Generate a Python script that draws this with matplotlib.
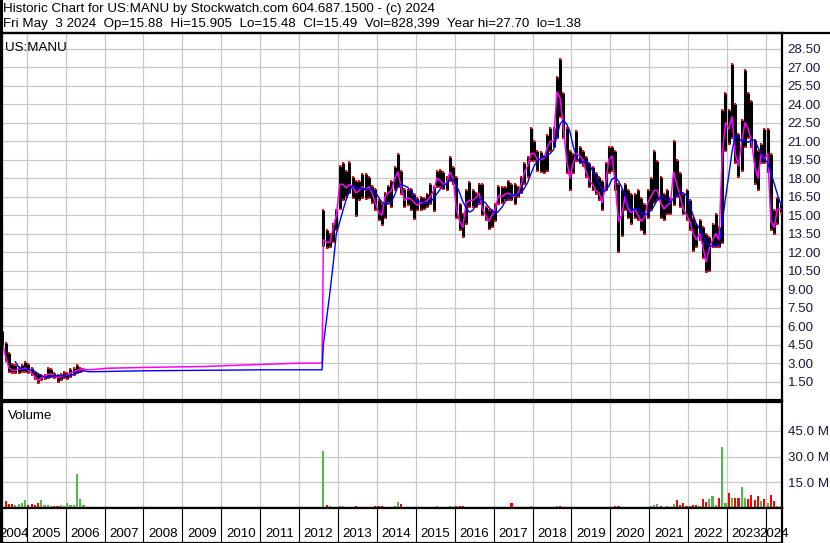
import numpy as np
import pandas as pd
import matplotlib
matplotlib.use('Agg')
from matplotlib import pyplot as plt
from matplotlib.lines import Line2D

plt.rcParams['font.family'] = ['Liberation Sans', 'DejaVu Sans']

# old listing, monthly bars May 2004 - Jun 2006
old_start = '2004-05'
old_high = [5.6, 4.6, 3.8, 2.9, 2.8, 2.7, 2.8, 3.1, 2.9, 2.6, 2.3, 2.1, 2.0,
            2.0, 2.6, 2.5, 2.2, 2.0, 2.1, 2.3, 2.2, 2.5, 2.6, 2.8, 2.6, 2.55]
old_low = [4.2, 3.2, 2.3, 2.2, 2.2, 2.2, 2.3, 2.3, 2.2, 2.0, 1.7, 1.4, 1.6,
           1.7, 1.8, 1.9, 1.8, 1.5, 1.6, 1.8, 1.7, 1.9, 2.0, 2.2, 2.3, 2.4]
old_close = [4.6, 3.5, 2.6, 2.4, 2.4, 2.5, 2.5, 2.6, 2.4, 2.2, 1.9, 1.6, 1.8,
             1.85, 2.1, 2.1, 2.0, 1.8, 1.9, 2.0, 2.0, 2.2, 2.3, 2.4, 2.45, 2.5]
old_vol = [14, 3.9, 2.5, 2.2, 2.0, 2.5, 3.0, 4.9, 2.0, 2.5, 2.0, 3.0, 4.5,
           2.0, 1.5, 1.2, 1.2, 1.0, 1.5, 1.2, 3.0, 1.5, 1.8, 20, 5.5, 2.0]

# moving averages drawn flat across the 2006-2012 gap
fast_gap_years = [2006.6, 2007.09, 2008.35, 2009.56, 2010.77, 2012.0, 2012.59]
fast_gap_vals = [2.45, 2.58, 2.66, 2.72, 2.86, 2.99, 2.99]
slow_gap_years = [2006.6, 2008.04, 2011.07, 2012.59]
slow_gap_vals = [2.29, 2.37, 2.45, 2.45]

# NYSE listing, monthly bars Aug 2012 - May 2024
new_start = '2012-08'
new_high = [15.4, 13.8, 13.5, 14.3, 15.4,
            19.0, 19.2, 18.6, 19.3, 18.1, 17.8, 17.8, 18.3, 18.3, 18.1, 17.4, 17.1,
            16.2, 15.9, 16.8, 17.4, 17.8, 18.9, 20.0, 18.6, 17.1, 17.0, 17.1, 16.7,
            16.4, 16.5, 16.4, 16.7, 17.5, 17.3, 18.6, 18.7, 18.5, 18.1, 19.7, 18.9,
            18.1, 15.9, 15.1, 17.0, 17.7, 17.0, 16.8, 17.5, 17.5, 15.7, 15.4, 15.4,
            15.9, 17.4, 17.3, 17.3, 17.8, 17.5, 17.5, 17.3, 18.1, 19.2, 19.7, 22.1,
            21.0, 20.2, 20.1, 19.8, 21.5, 22.1, 22.1, 26.2, 27.7, 24.9, 22.1, 20.2,
            20.0, 21.8, 20.5, 20.2, 19.7, 19.2, 18.9, 18.4, 18.1, 17.8, 19.2, 20.5,
            20.5, 20.2, 17.5, 17.0, 17.5, 17.0, 16.7, 16.7, 17.0, 16.4, 15.9, 17.0,
            18.0, 20.2, 19.4, 18.1, 16.7, 17.0, 16.4, 21.0, 19.5, 18.4, 16.7, 17.0,
            16.2, 14.8, 14.3, 14.6, 14.0, 13.5, 13.2, 14.3, 15.1, 14.0, 23.5, 24.9,
            23.5, 27.3, 24.0, 21.6, 22.7, 26.8, 24.9, 24.3, 21.1, 20.2, 20.8, 22.0,
            22.0, 20.0, 15.4, 16.4, 15.9]
new_low = [12.5, 12.3, 12.4, 12.8, 13.8,
           15.5, 16.2, 16.5, 16.8, 16.4, 14.9, 16.2, 16.4, 16.3, 16.4, 16.0, 15.4,
           14.6, 14.2, 14.8, 16.0, 15.7, 17.0, 17.3, 16.7, 15.7, 15.8, 15.4, 14.7,
           15.4, 15.4, 15.5, 15.7, 15.9, 15.3, 17.3, 17.3, 17.1, 17.0, 17.8, 17.5,
           14.8, 13.8, 13.2, 14.3, 15.7, 15.7, 15.7, 15.9, 15.0, 14.6, 13.9, 14.0,
           14.5, 15.9, 16.0, 16.2, 16.2, 16.2, 15.9, 16.5, 16.8, 17.5, 18.1, 19.4,
           19.4, 18.6, 18.5, 18.4, 18.6, 20.2, 20.5, 21.3, 23.0, 21.3, 18.4, 17.0,
           18.4, 19.4, 19.2, 19.0, 18.1, 17.3, 17.0, 16.7, 16.2, 15.4, 17.0, 18.4,
           18.6, 17.0, 12.0, 13.3, 15.4, 14.8, 14.3, 14.8, 14.6, 13.8, 13.5, 14.8,
           15.4, 16.0, 16.2, 14.8, 14.6, 15.1, 15.1, 15.8, 16.5, 15.7, 15.1, 14.6,
           13.8, 12.1, 12.4, 13.0, 11.5, 10.4, 10.5, 12.4, 12.4, 12.4, 12.7, 20.2,
           20.8, 21.3, 19.2, 18.1, 18.6, 20.5, 21.3, 20.5, 17.5, 17.0, 19.2, 19.2,
           18.5, 13.8, 13.5, 14.3, 15.2]
new_close = [13.0, 12.8, 12.8, 14.0, 15.0,
             17.5, 17.5, 17.2, 17.5, 17.3, 16.8, 17.0, 17.3, 17.0, 17.3, 16.8, 16.0,
             15.2, 15.0, 16.5, 16.8, 17.0, 18.0, 18.5, 17.2, 16.2, 16.4, 16.3, 16.0,
             15.8, 16.0, 16.0, 16.2, 16.5, 17.0, 18.0, 17.8, 17.5, 17.6, 18.5, 18.0,
             15.5, 14.5, 14.0, 16.0, 16.2, 16.2, 16.4, 16.8, 15.5, 15.0, 14.5, 15.0,
             15.5, 16.6, 16.5, 16.7, 16.8, 16.6, 16.5, 16.8, 17.5, 18.5, 19.0, 20.0,
             20.0, 19.5, 19.5, 19.6, 20.5, 21.0, 21.0, 25.0, 24.5, 22.0, 19.5, 18.0,
             19.2, 20.0, 19.8, 19.5, 18.5, 17.8, 17.5, 17.0, 16.8, 16.0, 17.5, 19.5,
             19.8, 17.5, 14.5, 15.0, 16.5, 15.5, 15.2, 15.5, 15.0, 14.5, 14.8, 16.0,
             16.5, 17.0, 17.0, 16.0, 15.5, 15.8, 16.0, 18.5, 17.5, 16.5, 15.5, 15.0,
             14.5, 13.5, 13.0, 13.5, 12.5, 11.2, 12.3, 13.0, 13.5, 13.0, 20.0, 22.5,
             22.0, 23.0, 20.0, 19.0, 21.0, 22.5, 22.0, 21.0, 19.0, 18.0, 20.0, 19.5,
             20.0, 14.5, 14.0, 15.5, 15.49]
new_vol = [33, 1.5, 1.0, 0.8, 0.8,
           1.2, 0.9, 0.8, 0.7, 0.8, 1.0, 0.7, 0.8, 0.7, 0.8, 0.7, 0.9,
           0.9, 1.0, 0.8, 0.7, 0.8, 1.0, 3.3, 2.5, 0.8, 0.7, 0.8, 0.7,
           0.7, 0.6, 0.7, 0.6, 0.7, 0.8, 0.9, 0.8, 0.7, 0.8, 0.9, 0.7,
           0.9, 1.0, 0.9, 0.8, 0.7, 0.8, 0.6, 0.7, 0.7, 0.6, 0.7, 0.6,
           0.6, 0.7, 0.6, 0.6, 0.6, 2.9, 0.6, 0.5, 0.6, 0.7, 0.7, 0.9,
           0.7, 0.6, 0.6, 0.6, 0.7, 0.6, 0.5, 0.9, 1.0, 0.8, 0.7, 0.8,
           0.6, 0.7, 0.6, 0.5, 0.6, 0.6, 0.6, 0.6, 0.6, 0.7, 0.6, 0.7,
           0.8, 0.9, 1.2, 0.8, 0.6, 0.6, 0.6, 0.6, 0.5, 0.6, 0.7, 0.7,
           0.9, 2.0, 2.5, 1.2, 0.8, 0.9, 0.8, 2.5, 4.4, 1.5, 2.8, 1.2,
           1.0, 1.5, 1.5, 1.2, 5.3, 3.5, 5.5, 7.0, 2.0, 5.7, 35.5, 3.0,
           8.5, 5.7, 5.7, 5.7, 12.3, 6.0, 5.0, 7.6, 4.5, 7.0, 4.0, 5.3,
           3.0, 7.6, 4.0, 1.3, 1.0]

price_ticks = np.arange(1.5, 29.0, 1.5)
vol_ticks = [15, 30, 45]
years = list(range(2004, 2025))

header1 = 'Historic Chart for US:MANU by Stockwatch.com 604.687.1500 - (c) 2024'
header2 = ('Fri May  3 2024  Op=15.88  Hi=15.905  Lo=15.48  Cl=15.49  '
           'Vol=828,399  Year hi=27.70  lo=1.38')


def month_pos(start, n):
    p = pd.period_range(start, periods=n, freq='M')
    return np.asarray(p.year + (p.month - 0.5) / 12.0, dtype=float)


W, H = 830.0, 543.0


def box(l, t, r, b):
    return [l / W, 1 - b / H, (r - l) / W, (b - t) / H]


x_old = month_pos(old_start, len(old_close))
x_new = month_pos(new_start, len(new_close))
closes = pd.Series(old_close + new_close)
slow = closes.rolling(5).mean().values
slow_old = slow[:len(old_close)]
slow_new = slow[len(old_close):]

fig = plt.figure(figsize=(8.3, 5.43), dpi=100)
ax = fig.add_axes(box(2, 33, 782, 400))
axv = fig.add_axes(box(2, 402, 782, 508))
axd = fig.add_axes(box(2, 508, 782, 543))

xlim = (2004.365, 2024.411)
grid_c = '#c8c8c8'
lab_c = '#1a1a3a'
fs = 9.6

# price panel
for xs, hi, lo in [(x_old, old_high, old_low), (x_new, new_high, new_low)]:
    ax.vlines(xs, lo, hi, color='black', lw=2.2, zorder=3)
    ax.plot(xs, hi, 's', color='red', ms=1.6, mew=0, zorder=4)
    ax.plot(xs, lo, 's', color='red', ms=1.6, mew=0, zorder=4)

fast_x = np.concatenate([x_old, fast_gap_years, x_new])
fast_y = np.concatenate([old_close, fast_gap_vals, new_close])
ax.plot(fast_x, fast_y, color='#ff00ff', lw=1.1, zorder=5)

keep = ~np.isnan(slow_old)
slow_x = np.concatenate([x_old[keep], slow_gap_years, x_new])
slow_y = np.concatenate([slow_old[keep], slow_gap_vals, slow_new])
ax.plot(slow_x, slow_y, color='#0000ff', lw=1.0, zorder=5)

ax.set_xlim(*xlim)
ax.set_ylim(0, 29.78)
ax.set_xticks(years[1:])
ax.set_yticks(price_ticks)
ax.set_yticklabels(['%.2f' % v for v in price_ticks])
ax.tick_params(axis='x', labelbottom=False, length=0)
ax.tick_params(axis='y', left=False, labelleft=False, right=True, labelright=True,
               length=0, pad=4, labelsize=fs, labelcolor=lab_c)
ax.grid(True, color=grid_c, lw=0.9)
ax.set_axisbelow(True)

# volume panel
for xs, vols, cl, first in [(x_old, old_vol, old_close, old_close[0]),
                            (x_new, new_vol, new_close, old_close[-1])]:
    prev = np.concatenate([[first], cl[:-1]])
    cols = np.where(np.asarray(cl) >= prev, '#4cbb4c', '#ff0000')
    axv.bar(xs, vols, width=0.055, color=cols, zorder=3)

axv.set_xlim(*xlim)
axv.set_ylim(0, 61.9)
axv.set_xticks(years[1:])
axv.set_yticks(vol_ticks)
axv.set_yticklabels(['%.1f M' % v for v in vol_ticks])
axv.tick_params(axis='x', labelbottom=False, length=0)
axv.tick_params(axis='y', left=False, labelleft=False, right=True, labelright=True,
                length=0, pad=4, labelsize=fs, labelcolor=lab_c)
axv.grid(True, color=grid_c, lw=0.9)
axv.set_axisbelow(True)

# date row
axd.set_xlim(*xlim)
axd.set_ylim(0, 1)
axd.set_xticks([])
axd.set_yticks([])
for y in years[1:]:
    axd.axvline(y, color='black', lw=0.8)
for y in years:
    lft = max(y, xlim[0])
    rgt = min(y + 1, xlim[1])
    axd.text((lft + rgt) / 2, 0.26, str(y), ha='center', va='center',
             fontsize=fs, color='black', clip_on=False)

for a in (ax, axv, axd):
    for s in a.spines.values():
        s.set_color('black')
        s.set_linewidth(1.6)

ax.text(0.004, 0.975, 'US:MANU', transform=ax.transAxes, ha='left', va='top',
        fontsize=fs)
axv.text(0.007, 0.92, 'Volume', transform=axv.transAxes, ha='left', va='top',
         fontsize=fs)

fig.text(3 / W, 1 - 9 / H, header1, ha='left', va='center', fontsize=fs)
fig.text(3 / W, 1 - 24 / H, header2, ha='left', va='center', fontsize=fs)
fig.add_artist(Line2D([0, 1], [1 - 33 / H, 1 - 33 / H], color='black', lw=1.6,
                      transform=fig.transFigure))
fig.add_artist(Line2D([1 / W, 1 / W], [0, 1], color='black', lw=2.2,
                      transform=fig.transFigure))

fig.savefig('out.png', dpi=100)
